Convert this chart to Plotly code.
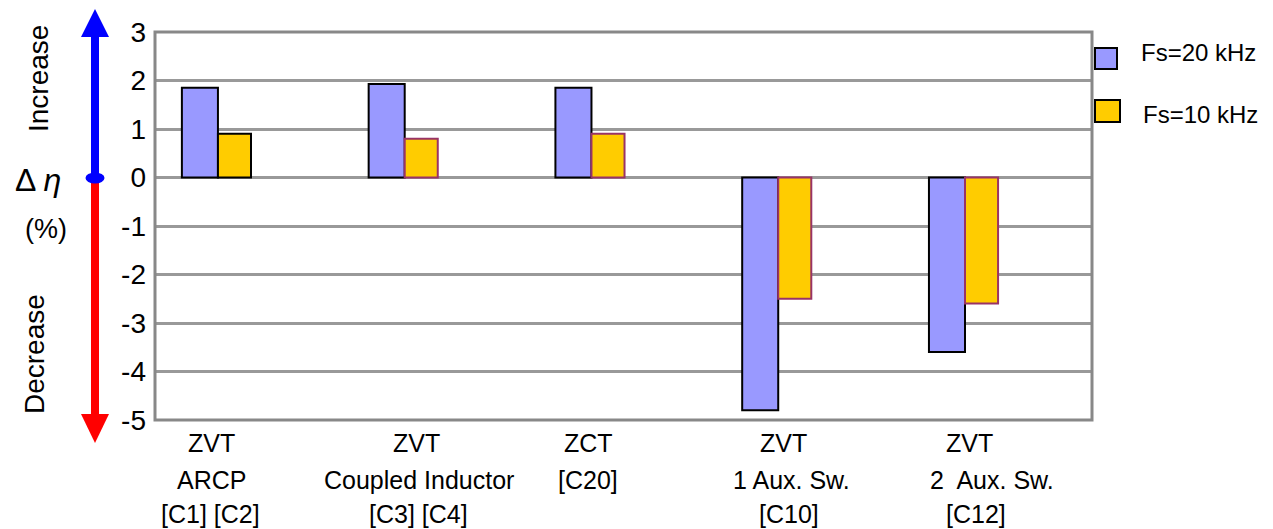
import plotly.graph_objects as go

# ---- data ----
groups = [
    ["ZVT", "ARCP", "[C1] [C2]"],
    ["ZVT", "Coupled Inductor", "[C3] [C4]"],
    ["ZCT", "[C20]"],
    ["ZVT", "1 Aux. Sw.", "[C10]"],
    ["ZVT", "2\u00a0 Aux. Sw.", "[C12]"],
]
fs20_values = [1.85, 1.93, 1.85, -4.8, -3.6]
fs10_values = [0.9, 0.8, 0.9, -2.5, -2.6]
series_names = ["Fs=20 kHz", "Fs=10 kHz"]
y_ticks = [3, 2, 1, 0, -1, -2, -3, -4, -5]
y_tick_labels = ["3", "2", "1", "0", "-1", "-2", "-3", "-4", "-5"]

W, H = 1273, 529
L, R, T, B = 155, 1092, 32, 420   # plot-area box in pixels
FONT = "Liberation Sans, Arial, sans-serif"
BLUE_FILL = "#9999FF"
YELLOW_FILL = "#FFCC00"
GRID = "#999999"


def px(x):
    return (x - L) / (R - L)


def py(y):
    return (B - y) / (B - T)


xs = list(range(len(groups)))
fig = go.Figure()
fig.add_trace(go.Bar(
    x=xs, y=fs20_values, name=series_names[0], width=0.193, offset=-0.193,
    marker=dict(color=BLUE_FILL, line=dict(color="black", width=2)),
    showlegend=False,
))
fig.add_trace(go.Bar(
    x=xs, y=fs10_values, name=series_names[1], width=0.177, offset=0,
    marker=dict(color=YELLOW_FILL,
                line=dict(color=["black", "#993366", "#993366", "#993366", "#993366"], width=2)),
    showlegend=False,
))

shapes = []
annotations = []

# plot frame
shapes.append(dict(type="rect", xref="paper", yref="paper", x0=0, x1=1, y0=0, y1=1,
                   line=dict(color="#888888", width=3), layer="above"))

# custom legend
legend_boxes = [(1095, 1117, 48, 69, BLUE_FILL, 52), (1095, 1120, 100, 122, YELLOW_FILL, 114)]
legend_text_x = [1139, 1141]
for (x0, x1, y0, y1, col, ty), name, tx in zip(legend_boxes, series_names, legend_text_x):
    shapes.append(dict(type="rect", xref="paper", yref="paper",
                       x0=px(x0), x1=px(x1), y0=py(y1), y1=py(y0),
                       fillcolor=col, line=dict(color="black", width=2)))
    annotations.append(dict(text=name, xref="paper", yref="paper", x=px(tx), y=py(ty),
                            xanchor="left", yanchor="middle", showarrow=False,
                            font=dict(family=FONT, size=24, color="black")))

# category labels below the plot
label_centers = [
    [211, 211, 210],
    [416, 419, 418],
    [588, 588],
    [783, 791, 789],
    [969, 992, 976],
]
line_y = [443, 480, 514]
for lines, centers in zip(groups, label_centers):
    for j, (txt, cx) in enumerate(zip(lines, centers)):
        annotations.append(dict(text=txt, xref="paper", yref="paper", x=px(cx), y=py(line_y[j]),
                                xanchor="center", yanchor="middle", showarrow=False,
                                font=dict(family=FONT, size=25, color="black")))

# increase / decrease arrows on the left
ax = 95
shapes.append(dict(type="line", xref="paper", yref="paper", x0=px(ax), x1=px(ax),
                   y0=py(178), y1=py(36), line=dict(color="#0000FF", width=8)))
shapes.append(dict(type="line", xref="paper", yref="paper", x0=px(ax), x1=px(ax),
                   y0=py(178), y1=py(415), line=dict(color="#FF0000", width=8)))


def tri(tip_y, base_y, half):
    return (f"M {px(ax)},{py(tip_y)} L {px(ax - half)},{py(base_y)} "
            f"L {px(ax + half)},{py(base_y)} Z")


shapes.append(dict(type="path", xref="paper", yref="paper", path=tri(9, 37, 14),
                   fillcolor="#0000FF", line=dict(width=0)))
shapes.append(dict(type="path", xref="paper", yref="paper", path=tri(443, 414, 14),
                   fillcolor="#FF0000", line=dict(width=0)))
shapes.append(dict(type="circle", xref="paper", yref="paper",
                   x0=px(ax - 9.5), x1=px(ax + 9.5), y0=py(183.5), y1=py(172.5),
                   fillcolor="#0000FF", line=dict(width=0)))

annotations.append(dict(text="Increase", xref="paper", yref="paper", x=px(38), y=py(79),
                        textangle=-90, showarrow=False, xanchor="center", yanchor="middle",
                        font=dict(family=FONT, size=28, color="black")))
annotations.append(dict(text="Decrease", xref="paper", yref="paper", x=px(34), y=py(354),
                        textangle=-90, showarrow=False, xanchor="center", yanchor="middle",
                        font=dict(family=FONT, size=28, color="black")))
annotations.append(dict(text="\u0394 <i>\u03b7</i>", xref="paper", yref="paper", x=px(38), y=py(180),
                        showarrow=False, xanchor="center", yanchor="middle",
                        font=dict(family=FONT, size=32, color="black")))
annotations.append(dict(text="(%)", xref="paper", yref="paper", x=px(46), y=py(229),
                        showarrow=False, xanchor="center", yanchor="middle",
                        font=dict(family=FONT, size=27, color="black")))

fig.update_layout(
    width=W, height=H,
    margin=dict(l=L, r=W - R, t=T, b=H - B, pad=0),
    paper_bgcolor="white", plot_bgcolor="white",
    barmode="overlay",
    shapes=shapes, annotations=annotations,
    xaxis=dict(range=[-0.337, 4.68], showticklabels=False, showgrid=False,
               zeroline=False, fixedrange=True),
    yaxis=dict(range=[-5, 3], tickvals=y_ticks, ticktext=y_tick_labels,
               showgrid=True, gridcolor=GRID, gridwidth=3,
               zeroline=True, zerolinecolor=GRID, zerolinewidth=3,
               ticklabelstandoff=8,
               tickfont=dict(family=FONT, size=28, color="black"), fixedrange=True),
)

fig.write_html("out.html")
